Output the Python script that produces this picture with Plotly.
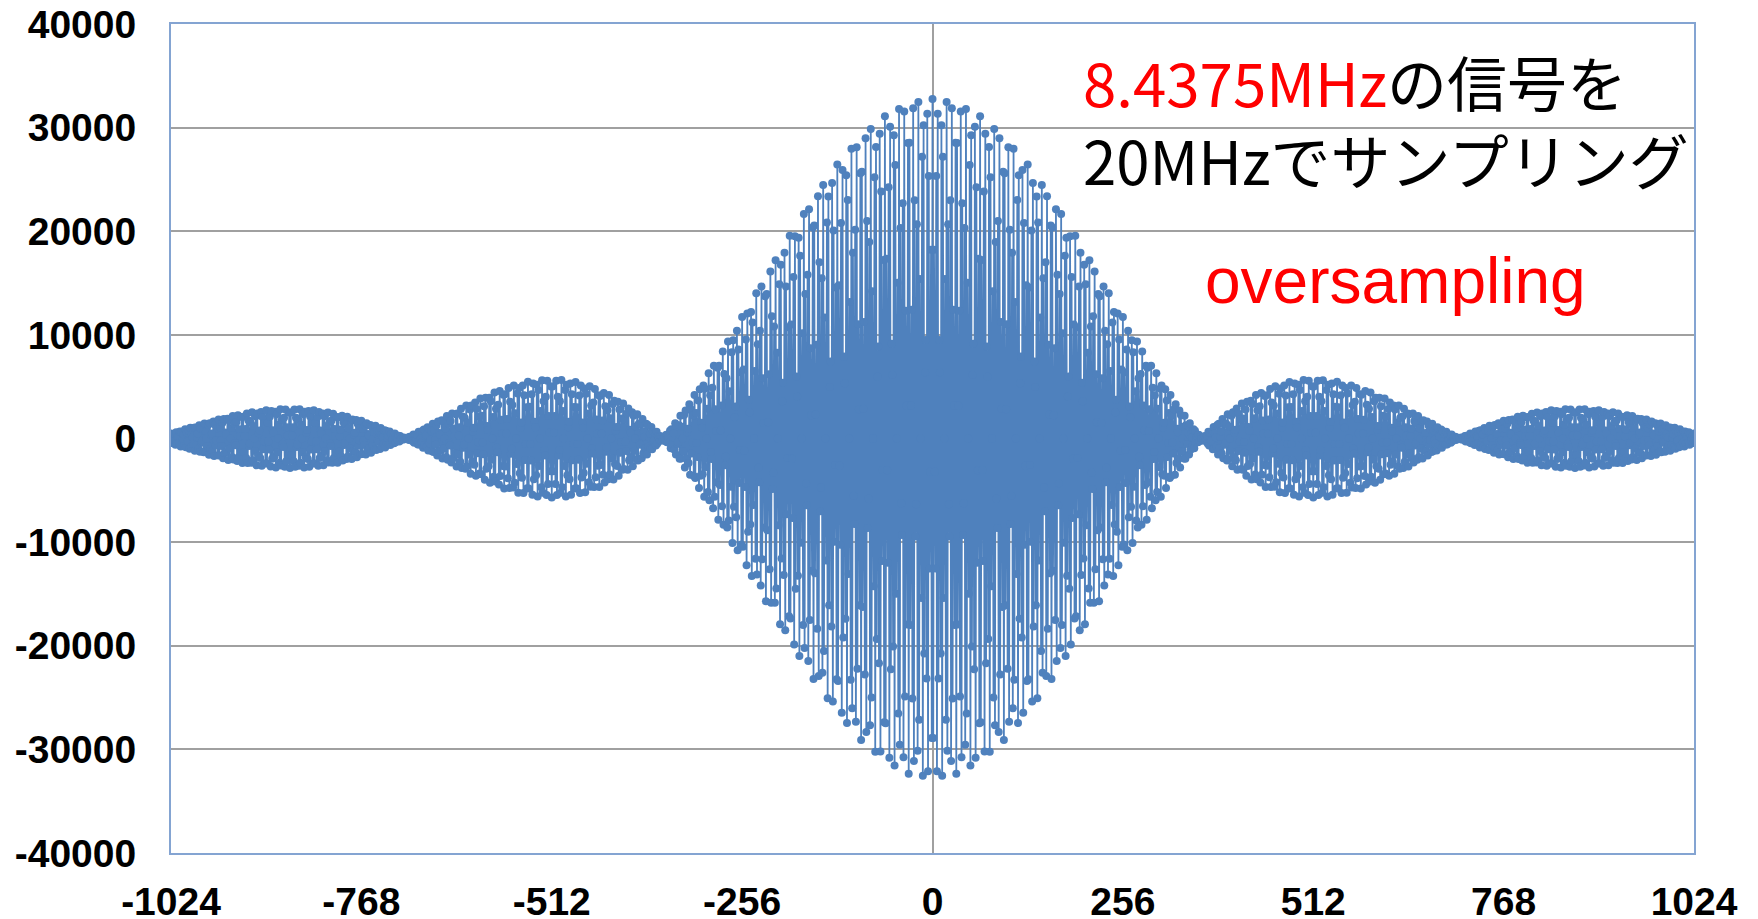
import numpy as np
import plotly.graph_objects as go

# ---- data ----
SIGNAL_MHZ = 8.4375          # signal frequency (from chart text)
SAMPLE_MHZ = 20.0            # sampling frequency (from chart text)
SAMPLE_RANGE = [-1024, 1024] # sample index range
LOBE_ZEROS = [0, 362, 708, 1045]   # envelope zero crossings (|n|)
LOBE_PEAKS = [32767, -5700, 2850]  # envelope peak of each lobe
X_TICKS = [-1024, -768, -512, -256, 0, 256, 512, 768, 1024]
Y_TICKS = [-40000, -30000, -20000, -10000, 0, 10000, 20000, 30000, 40000]

# ---- build samples ----
n = np.arange(SAMPLE_RANGE[0], SAMPLE_RANGE[1] + 1)
a = np.abs(n).astype(float)
env = np.zeros_like(a)
m0 = a <= LOBE_ZEROS[1]
env[m0] = LOBE_PEAKS[0] * np.sinc(a[m0] / LOBE_ZEROS[1])
for k in (1, 2):
    z0, z1 = LOBE_ZEROS[k], LOBE_ZEROS[k + 1]
    aa = np.linspace(z0, z1, 2001)
    shape = np.sin(np.pi * (aa - z0) / (z1 - z0)) / aa
    norm = shape.max()
    m = (a > z0) & (a <= z1) if k == 1 else (a > z0)
    env[m] = LOBE_PEAKS[k] * np.sin(np.pi * (a[m] - z0) / (z1 - z0)) / a[m] / norm
values = np.round(env * np.cos(2 * np.pi * SIGNAL_MHZ / SAMPLE_MHZ * n)).astype(int)

BLUE = "#4F81BD"
fig = go.Figure()
fig.add_trace(go.Scatter(
    x=n, y=values, mode="lines+markers",
    line=dict(color=BLUE, width=1.8),
    marker=dict(color=BLUE, size=8, line=dict(width=0)),
    showlegend=False, hoverinfo="x+y"))

tickfont = dict(family="Liberation Sans, Arial, sans-serif", size=39, color="black", weight="bold")
fig.update_layout(
    width=1758, height=919,
    margin=dict(l=171, r=64, t=24, b=66, autoexpand=False),
    paper_bgcolor="white", plot_bgcolor="white",
    xaxis=dict(range=SAMPLE_RANGE, tickvals=X_TICKS, ticktext=[str(v) for v in X_TICKS],
               showgrid=False, zeroline=True, zerolinecolor="#A0A0A0", zerolinewidth=1.5,
               showline=True, linecolor="#84A4D2", linewidth=2, mirror=True, automargin=False,
               ticks="", tickfont=tickfont, ticklabelstandoff=13),
    yaxis=dict(range=[Y_TICKS[0], Y_TICKS[-1]], tickvals=Y_TICKS, ticktext=[str(v) for v in Y_TICKS],
               showgrid=True, gridcolor="#A0A0A0", gridwidth=1.5,
               zeroline=True, zerolinecolor="#A0A0A0", zerolinewidth=1.5,
               showline=True, linecolor="#84A4D2", linewidth=2, mirror=True, automargin=False,
               ticks="", tickfont=tickfont, ticklabelstandoff=25),
)

jfont = "Noto Sans CJK JP, sans-serif"
fig.add_annotation(xref="paper", yref="paper", x=0.5975, y=0.8845, xanchor="left", yanchor="middle",
                   align="left",
                   text="<span style='color:#FF0000'>8.4375MHz</span>の信号を<br>20MHzでサンプリング",
                   showarrow=False, font=dict(family=jfont, size=60, color="black"))
fig.add_annotation(xref="paper", yref="paper", x=0.8037, y=0.690, xanchor="center", yanchor="middle",
                   text="oversampling",
                   showarrow=False, font=dict(family="Liberation Sans, Arial, sans-serif", size=64, color="#FF0000"))

fig.write_html("out.html")
